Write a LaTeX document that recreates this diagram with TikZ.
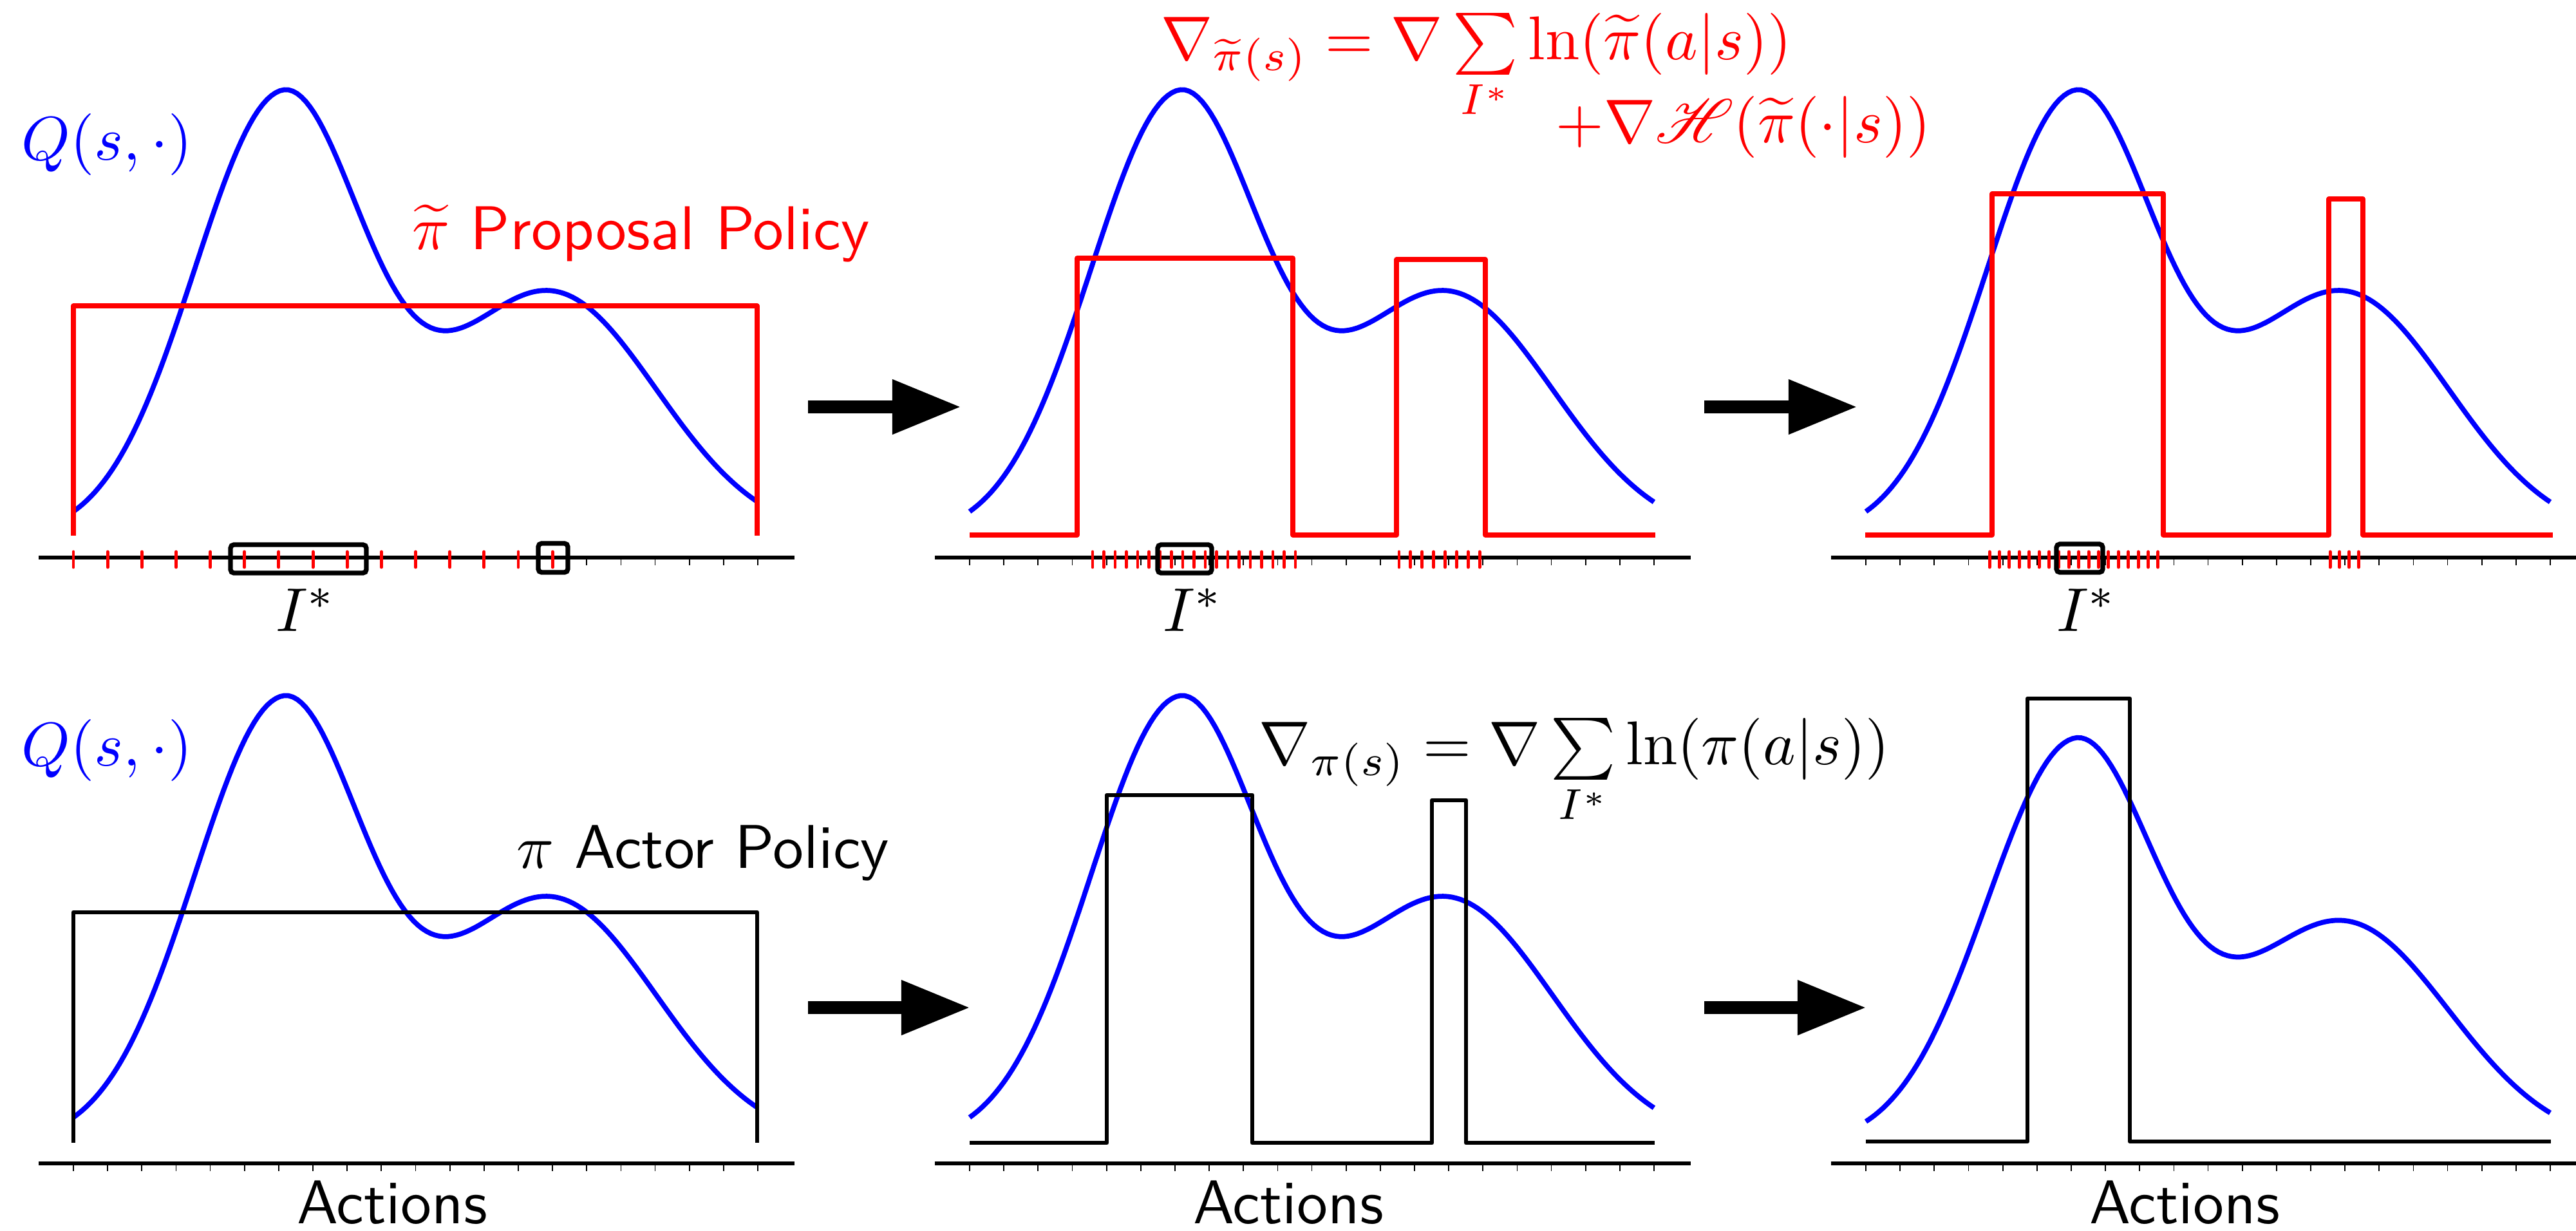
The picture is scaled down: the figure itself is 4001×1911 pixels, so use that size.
\RequirePackage{fix-cm}
\documentclass[tikz,border=0pt]{standalone}
\usepackage{amsmath}
\usepackage{mathrsfs}
\usepackage{graphicx}
\usetikzlibrary{arrows.meta}
\definecolor{qblue}{RGB}{0,0,255}
\definecolor{pred}{RGB}{255,0,0}
\newcommand{\bigtxt}[1]{\scalebox{2.73}{\fontsize{10}{12}\selectfont\sffamily #1}}
\tikzset{
  qcurve/.style={draw=qblue, line width=2.2pt, line join=round},
  redstep/.style={draw=pred, line width=2.1pt, line join=round},
  blkstep/.style={draw=black, line width=1.9pt, line join=round},
  axisline/.style={draw=black, line width=1.9pt},
  minortick/.style={draw=black, line width=0.5pt},
  redtick/.style={draw=pred, line width=1.4pt, line cap=round},
  ibox/.style={draw=black, line width=2.1pt, rounded corners=1.5pt},
  bigarrow/.style={draw=black, line width=5.7pt, -{Triangle[length=1.07cm,width=0.8cm]}},
  lbl/.style={inner sep=0pt},
}
\def\Qcurve{plot[domain=0:10.63, samples=160, variable=\u]
  ({100*\u}, {-(30 + 680*exp(-((\u-3.24)^2)/(2*(((\u<3.24) ? 1.37 : 1.25)^2))) + 382*exp(-((\u-7.4)^2)/5.445))})}
\begin{document}
\begin{tikzpicture}[x=0.01cm, y=-0.01cm]
\useasboundingbox (0,0) rectangle (4001,1911);

% ---------- axes and minor ticks ----------
\foreach \ox in {0,1392,2784}{
  \foreach \oy in {866,1807}{
    \draw[axisline] (60+\ox,\oy) -- ({min(1234+\ox,4001)},\oy);
    \foreach \k in {0,...,20}{
      \draw[minortick] (114+\ox+53.15*\k,\oy) -- (114+\ox+53.15*\k,\oy+12);
    }
  }
}

% ---------- Q curves ----------
\begin{scope}[shift={(114,866)}] \draw[qcurve] \Qcurve; \end{scope}
\begin{scope}[shift={(1506,866)}] \draw[qcurve] \Qcurve; \end{scope}
\begin{scope}[shift={(2898,866)}] \draw[qcurve] \Qcurve; \end{scope}
\begin{scope}[shift={(114,1807)}] \draw[qcurve] \Qcurve; \end{scope}
\begin{scope}[shift={(1506,1807)}] \draw[qcurve] \Qcurve; \end{scope}
\begin{scope}[shift={(2898,1807)}, yscale=0.91] \draw[qcurve] \Qcurve; \end{scope}

% ---------- proposal policy (red) ----------
\draw[redstep] (114,832) -- (114,475) -- (1176,475) -- (1176,832);
\draw[redstep] (1506,831) -- (1673,831) -- (1673,401) -- (2008,401) -- (2008,831)
  -- (2169,831) -- (2169,403) -- (2307,403) -- (2307,831) -- (2571,831);
\draw[redstep] (2897,831) -- (3094,831) -- (3094,301) -- (3360,301) -- (3360,831)
  -- (3617,831) -- (3617,309) -- (3670,309) -- (3670,831) -- (3965,831);

% ---------- actor policy (black) ----------
\draw[blkstep] (114,1775) -- (114,1417) -- (1176,1417) -- (1176,1775);
\draw[blkstep] (1506,1775) -- (1719,1775) -- (1719,1235) -- (1945,1235) -- (1945,1775)
  -- (2224,1775) -- (2224,1243) -- (2277,1243) -- (2277,1775) -- (2570,1775);
\draw[blkstep] (2898,1773) -- (3149,1773) -- (3149,1085) -- (3308,1085) -- (3308,1773) -- (3962,1773);

% ---------- sampled actions (red ticks) ----------
\foreach \k in {0,...,14}{ \draw[redtick] (114+53.15*\k,857) -- (114+53.15*\k,881); }
\foreach \j in {0,...,18}{ \draw[redtick] (1697+17.5*\j,857) -- (1697+17.5*\j,881); }
\foreach \j in {0,...,7}{ \draw[redtick] (2173+17.86*\j,857) -- (2173+17.86*\j,881); }
\foreach \j in {0,...,17}{ \draw[redtick] (3090+15.4*\j,857) -- (3090+15.4*\j,881); }
\foreach \j in {0,...,3}{ \draw[redtick] (3619+14.7*\j,857) -- (3619+14.7*\j,881); }

% ---------- I* boxes ----------
\draw[ibox] (358,846) rectangle (569,890);
\draw[ibox] (836,844) rectangle (882,889);
\draw[ibox] (1798,846) rectangle (1882,890);
\draw[ibox] (3194,845) rectangle (3266,889);

% ---------- arrows ----------
\coordinate (ar1s) at (1255,632); \coordinate (ar1e) at (1493,632);
\coordinate (ar2s) at (2647,632); \coordinate (ar2e) at (2885,632);
\coordinate (ar3s) at (1255,1565); \coordinate (ar3e) at (1507,1565);
\coordinate (ar4s) at (2647,1565); \coordinate (ar4e) at (2899,1565);
\draw[bigarrow] (ar1s) -- (ar1e);
\draw[bigarrow] (ar2s) -- (ar2e);
\draw[bigarrow] (ar3s) -- (ar3e);
\draw[bigarrow] (ar4s) -- (ar4e);

% ---------- labels ----------
\node[lbl, text=qblue, anchor=base west] (q1) at (33,248) {\bigtxt{$Q(s,\cdot)$}};
\node[lbl, text=qblue, anchor=base west] (q2) at (33,1189) {\bigtxt{$Q(s,\cdot)$}};
\node[lbl, text=pred, anchor=base west] (pp) at (640,387) {\bigtxt{$\widetilde{\pi}$ Proposal Policy}};
\node[lbl, anchor=base west] (ap) at (802,1348) {\bigtxt{$\pi$ Actor Policy}};
\node[lbl, text=pred, anchor=base west] (f1) at (1803,92)
  {\bigtxt{$\nabla_{\widetilde{\pi}(s)} = \nabla \sum\limits_{I^*} \ln(\widetilde{\pi}(a|s))$}};
\node[lbl, text=pred, anchor=base west] (f2) at (2416,221)
  {\bigtxt{$+\nabla\mathscr{H}(\widetilde{\pi}(\cdot|s))$}};
\node[lbl, anchor=base west] (f3) at (1955,1187)
  {\bigtxt{$\nabla_{\pi(s)} = \nabla \sum\limits_{I^*} \ln(\pi(a|s))$}};
\node[lbl, anchor=base] (i1) at (475,980) {\bigtxt{$I^*$}};
\node[lbl, anchor=base] (i2) at (1853,980) {\bigtxt{$I^*$}};
\node[lbl, anchor=base] (i3) at (3241,980) {\bigtxt{$I^*$}};
\node[lbl, anchor=base] (x1) at (609,1900) {\bigtxt{Actions}};
\node[lbl, anchor=base] (x2) at (2001,1900) {\bigtxt{Actions}};
\node[lbl, anchor=base] (x3) at (3393,1900) {\bigtxt{Actions}};
\end{tikzpicture}
\end{document}
